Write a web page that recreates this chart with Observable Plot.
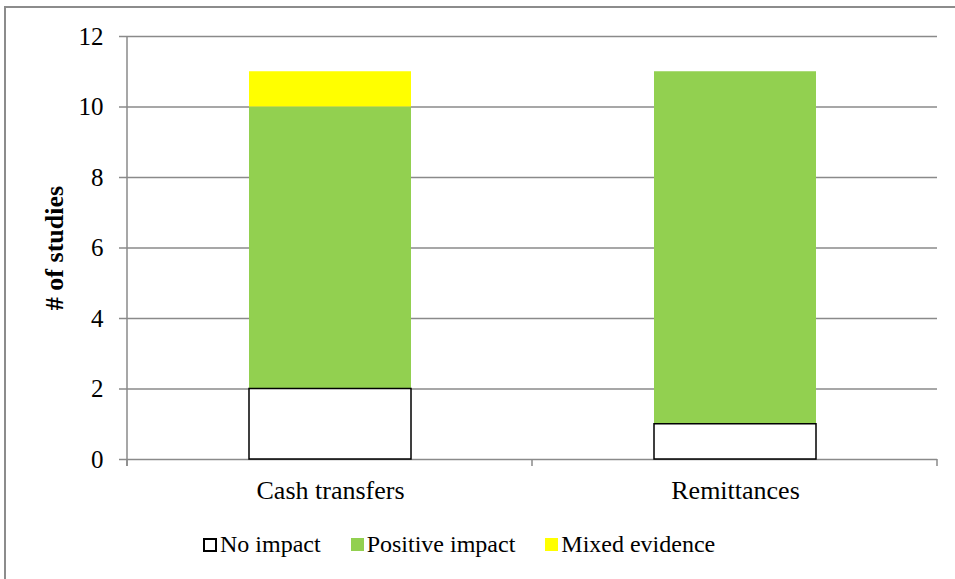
<!DOCTYPE html>
<html>
<head>
<meta charset="utf-8">
<script src="https://cdn.jsdelivr.net/npm/d3@7"></script>
<script src="https://cdn.jsdelivr.net/npm/@observablehq/plot@0.6"></script>
<style>
  html, body { margin: 0; padding: 0; background: #fff; overflow: hidden; }
  body { font-family: 'Liberation Serif', serif; width: 955px; height: 579px; position: relative; }
  #frame { position: absolute; left: 4px; top: 6px; width: 1000px; height: 700px; border: 2px solid #8c8c8c; box-sizing: border-box; }
  #chart { position: absolute; left: 0; top: 0; }
  #legend { position: absolute; left: 203px; top: 531px; display: flex; align-items: center; font-family: 'Liberation Serif', serif; font-size: 24px; color: #000; white-space: nowrap; }
  #legend .item { display: flex; align-items: center; margin-right: 30px; }
  #legend .box { display: inline-block; width: 13px; height: 13px; margin-right: 3px; box-sizing: border-box; }
  svg text { font-family: 'Liberation Serif', serif; }
</style>
</head>
<body>
<div id="frame"></div>
<div id="chart"></div>
<div id="legend"></div>
<script>
const categories = ["Cash transfers", "Remittances"];
const series = ["No impact", "Positive impact", "Mixed evidence"];
const noImpact = [2, 1];
const positiveImpact = [8, 10];
const mixedEvidence = [1, 0];
const yTicks = [0, 2, 4, 6, 8, 10, 12];
const seriesColors = ["#ffffff", "#92d050", "#ffff00"];
const yTitle = "# of studies";

const serif = "'Liberation Serif', serif";
const gridColor = "#8a8a8a";
const valuesBySeries = [noImpact, positiveImpact, mixedEvidence];
const data = categories.flatMap((c, i) =>
  series.map((s, j) => ({category: c, series: s, value: valuesBySeries[j][i]}))
);

const frameMark = Plot.ruleY([0], {
  render: (index, scales, values, dims) => {
    const left = dims.marginLeft, right = dims.width - dims.marginRight, top = dims.marginTop;
    const y0 = scales.y(0);
    const g = d3.create("svg:g").attr("stroke", gridColor).attr("stroke-width", 1.5).attr("fill", "none");
    g.append("line").attr("x1", left).attr("x2", left).attr("y1", top).attr("y2", y0 + 7);
    const step = (right - left) / categories.length;
    for (let i = 0; i <= categories.length; i++) {
      g.append("line").attr("x1", left + i * step).attr("x2", left + i * step).attr("y1", y0).attr("y2", y0 + 7);
    }
    return g.node();
  }
});

const chart = Plot.plot({
  width: 955,
  height: 579,
  marginLeft: 127,
  marginRight: 18,
  marginTop: 36,
  marginBottom: 120,
  style: {background: "transparent", fontFamily: serif, overflow: "visible"},
  x: {domain: categories, paddingInner: 0.6, paddingOuter: 0.3, label: null},
  y: {domain: [0, 12], label: null},
  color: {domain: series, range: seriesColors},
  marks: [
    Plot.ruleY(yTicks, {stroke: gridColor, strokeWidth: 1.5}),
    Plot.barY(data, {x: "category", y: "value", fill: "series", order: series}),
    Plot.barY(data.filter(d => d.series === "No impact"), {x: "category", y: "value", fill: "none", stroke: "#000", strokeWidth: 1.5}),
    frameMark,
    Plot.axisY({ticks: yTicks, tickSize: 8, tickPadding: 16, fontSize: 25, fontFamily: serif, stroke: gridColor, strokeWidth: 1.5, fill: "#000", tickFormat: d3.format("d"), label: null}),
    Plot.axisX({tickSize: 0, tickPadding: 21, fontSize: 26, fontFamily: serif, fill: "#000", label: null}),
    Plot.text([yTitle], {frameAnchor: "left", dx: -73, rotate: -90, textAnchor: "middle", lineAnchor: "middle", fontSize: 26, fontWeight: "bold", fontFamily: serif, fill: "#000"})
  ]
});
document.getElementById("chart").appendChild(chart);

const legend = document.getElementById("legend");
series.forEach((s, i) => {
  const item = document.createElement("span");
  item.className = "item";
  const box = document.createElement("span");
  box.className = "box";
  box.style.background = seriesColors[i];
  if (i === 0) { box.style.border = "2px solid #000"; box.style.width = "14px"; box.style.height = "14px"; }
  const label = document.createElement("span");
  label.textContent = s;
  item.appendChild(box);
  item.appendChild(label);
  legend.appendChild(item);
});
</script>
</body>
</html>
